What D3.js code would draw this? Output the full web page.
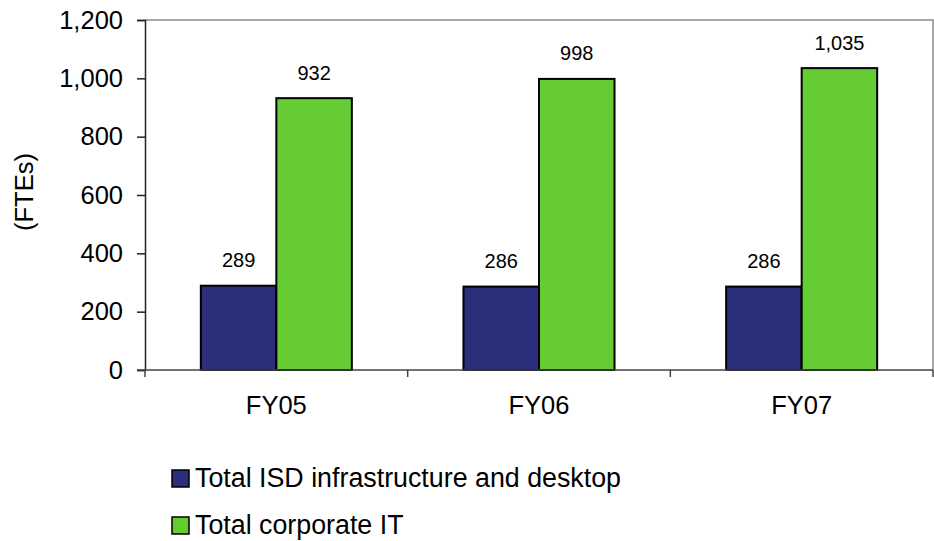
<!DOCTYPE html>
<html>
<head>
<meta charset="utf-8">
<script src="https://cdn.jsdelivr.net/npm/d3@7"></script>
<style>
  html, body { margin: 0; padding: 0; background: #fff; }
  svg { display: block; font-family: "Liberation Sans", Arial, sans-serif; }
</style>
</head>
<body>
<svg id="chart" width="934" height="541"></svg>
<script>
// Chart data
const categories = ["FY05", "FY06", "FY07"];
const seriesNames = ["Total ISD infrastructure and desktop", "Total corporate IT"];
const isdValues = [289, 286, 286];
const corporateValues = [932, 998, 1035];
const yTicks = [0, 200, 400, 600, 800, 1000, 1200];
const seriesColors = ["#2B2E7A", "#66CC33"];

const svg = d3.select("#chart");
const plot = { left: 145, top: 20, right: 933, bottom: 370 };
const fontFamily = "'Liberation Sans', Arial, sans-serif";

const x = d3.scaleBand().domain(categories).range([plot.left, plot.right]).paddingInner(0.425).paddingOuter(0.2125);
const xs = d3.scaleBand().domain(seriesNames).range([0, x.bandwidth()]);
const y = d3.scaleLinear().domain([0, 1200]).range([plot.bottom, plot.top]);

// Plot frame (top and right edges)
svg.append("path")
  .attr("d", `M${plot.left},${plot.top}H${plot.right}V${plot.bottom}`)
  .attr("fill", "none").attr("stroke", "#8c8c8c").attr("stroke-width", 1.5);

// Bars
const rows = categories.map((c, i) => ({ cat: c, vals: [isdValues[i], corporateValues[i]] }));
const groups = svg.append("g").selectAll("g").data(rows).join("g")
  .attr("transform", d => `translate(${x(d.cat)},0)`);
groups.selectAll("rect").data(d => d.vals.map((v, j) => ({ v, s: seriesNames[j], j }))).join("rect")
  .attr("x", d => xs(d.s))
  .attr("y", d => y(d.v))
  .attr("width", xs.bandwidth())
  .attr("height", d => y(0) - y(d.v))
  .attr("fill", d => seriesColors[d.j])
  .attr("stroke", "#000").attr("stroke-width", 2);

// Value labels
const fmt = d3.format(",");
groups.selectAll("text").data(d => d.vals.map((v, j) => ({ v, s: seriesNames[j] }))).join("text")
  .attr("x", d => xs(d.s) + xs.bandwidth() / 2)
  .attr("y", d => y(d.v) - 18.5)
  .attr("text-anchor", "middle")
  .attr("font-size", 20)
  .text(d => fmt(d.v));

// Y axis
const yAxis = svg.append("g").attr("transform", `translate(${plot.left},0)`)
  .call(d3.axisLeft(y).tickValues(yTicks).tickFormat(fmt).tickSize(8).tickPadding(14));
yAxis.select(".domain").attr("stroke", "#222").attr("stroke-width", 1.5);
yAxis.selectAll(".tick line").attr("stroke", "#222").attr("stroke-width", 1.5);
yAxis.selectAll(".tick text").attr("font-size", 25.5).attr("fill", "#000")
  .attr("font-family", fontFamily);

// X axis
const xAxisG = svg.append("g");
xAxisG.append("line")
  .attr("x1", plot.left - 8).attr("x2", plot.right)
  .attr("y1", plot.bottom).attr("y2", plot.bottom)
  .attr("stroke", "#444").attr("stroke-width", 1.5);
const boundaries = d3.range(categories.length + 1).map(i => plot.left + i * (plot.right - plot.left) / categories.length);
xAxisG.selectAll(".xtick").data(boundaries).join("line")
  .attr("x1", d => d).attr("x2", d => d)
  .attr("y1", plot.bottom).attr("y2", plot.bottom + 7)
  .attr("stroke", "#444").attr("stroke-width", 1.5);
xAxisG.selectAll(".xlab").data(categories).join("text")
  .attr("x", d => x(d) + x.bandwidth() / 2)
  .attr("y", 414)
  .attr("text-anchor", "middle")
  .attr("font-size", 25.5)
  .text(d => d);

// Y axis title
svg.append("text")
  .attr("transform", "translate(33,192) rotate(-90)")
  .attr("text-anchor", "middle")
  .attr("font-size", 25.5)
  .text("(FTEs)");

// Legend
const legend = svg.append("g").selectAll("g").data(seriesNames).join("g")
  .attr("transform", (d, i) => `translate(172,${470 + i * 47})`);
legend.append("rect")
  .attr("width", 17).attr("height", 17)
  .attr("fill", (d, i) => seriesColors[i])
  .attr("stroke", "#000").attr("stroke-width", 1.5);
legend.append("text")
  .attr("x", 23).attr("y", 17)
  .attr("font-size", 26.8)
  .text(d => d);
</script>
</body>
</html>
